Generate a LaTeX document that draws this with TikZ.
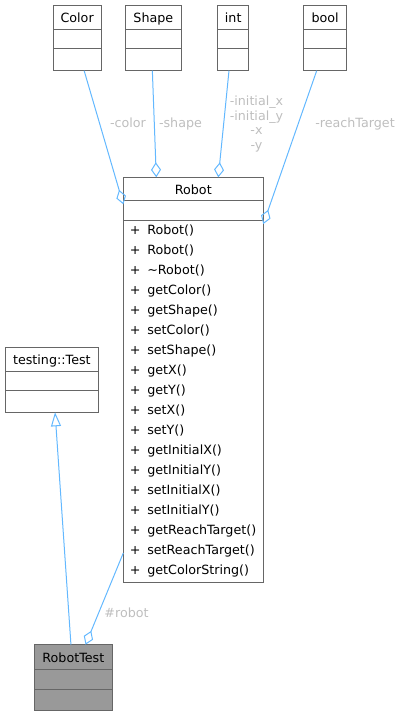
\documentclass[tikz,border=0pt]{standalone}
\usepackage{fontspec}
\setmainfont{DejaVu Sans}
\usetikzlibrary{arrows.meta,positioning}

\definecolor{edgeblue}{HTML}{63B8FF}
\definecolor{boxgray}{HTML}{666666}
\definecolor{labelgray}{HTML}{BEBEBE}
\definecolor{testfill}{HTML}{999999}

\newcommand{\opline}[1]{\makebox[17.5pt][l]{+}#1}

\tikzset{
  classtitle/.style={draw=boxgray, line width=1pt, inner sep=0pt, outer sep=0pt, minimum height=24pt,
    text height=12pt, text depth=1.4pt, font=\fontsize{12.7}{15}\selectfont},
  classpart/.style={draw=boxgray, line width=1pt, inner sep=0pt, outer sep=0pt, minimum height=20pt},
  edgelabel/.style={text=labelgray, inner sep=0pt, text height=9.6pt, text depth=2.6pt,
    font=\fontsize{12.7}{15}\selectfont},
  assoc/.style={draw=edgeblue, line width=1pt, -{Diamond[open, length=15pt, width=10pt]}},
  inherit/.style={draw=edgeblue, line width=1pt, -{Triangle[open, length=14pt, width=10pt]}}
}

\begin{document}
\begin{tikzpicture}[x=1pt,y=-1pt]
\useasboundingbox (0,0) rectangle (401,716);

% member classes
\node[classtitle, anchor=north west, minimum width=48.3pt] (color) at (53,5) {Color};
\node[classpart, minimum width=48.3pt, minimum height=19.7pt, below=0pt of color] (color-a) {};
\node[classpart, minimum width=48.3pt, minimum height=22pt, below=0pt of color-a] (color-o) {};

\node[classtitle, anchor=north west, minimum width=55.3pt] (shape) at (125.7,5) {Shape};
\node[classpart, minimum width=55.3pt, minimum height=19.7pt, below=0pt of shape] (shape-a) {};
\node[classpart, minimum width=55.3pt, minimum height=22pt, below=0pt of shape-a] (shape-o) {};

\node[classtitle, anchor=north west, minimum width=31pt] (int) at (217.7,5) {int};
\node[classpart, minimum width=31pt, minimum height=19.7pt, below=0pt of int] (int-a) {};
\node[classpart, minimum width=31pt, minimum height=22pt, below=0pt of int-a] (int-o) {};

\node[classtitle, anchor=north west, minimum width=43pt] (bool) at (303.7,5) {bool};
\node[classpart, minimum width=43pt, minimum height=19.7pt, below=0pt of bool] (bool-a) {};
\node[classpart, minimum width=43pt, minimum height=22pt, below=0pt of bool-a] (bool-o) {};

% Robot
\node[classtitle, anchor=north west, minimum width=140pt, minimum height=23pt] (robot) at (123.3,177.3) {Robot};
\node[classpart, minimum width=140pt, minimum height=19.7pt, below=0pt of robot] (robot-a) {};
\node[classpart, minimum width=140pt, minimum height=362.3pt, below=0pt of robot-a,
  align=left, text width=127pt, inner xsep=6.5pt, font=\fontsize{12.7}{20}\selectfont] (robot-o)
  {\opline{Robot()}\\ \opline{Robot()}\\ \opline{\textasciitilde Robot()}\\
   \opline{getColor()}\\ \opline{getShape()}\\ \opline{setColor()}\\ \opline{setShape()}\\
   \opline{getX()}\\ \opline{getY()}\\ \opline{setX()}\\ \opline{setY()}\\
   \opline{getInitialX()}\\ \opline{getInitialY()}\\ \opline{setInitialX()}\\
   \opline{setInitialY()}\\ \opline{getReachTarget()}\\ \opline{setReachTarget()}\\
   \opline{getColorString()}};

% testing::Test and RobotTest
\node[classtitle, anchor=north west, minimum width=93.7pt] (test) at (5,347) {testing::Test};
\node[classpart, minimum width=93.7pt, minimum height=19.7pt, below=0pt of test] (test-a) {};
\node[classpart, minimum width=93.7pt, minimum height=21.6pt, below=0pt of test-a] (test-o) {};

\node[classtitle, fill=testfill, anchor=north west, minimum width=78.7pt, minimum height=24.3pt] (robottest) at (34,644.7) {RobotTest};
\node[classpart, fill=testfill, minimum width=78.7pt, below=0pt of robottest] (robottest-a) {};
\node[classpart, fill=testfill, minimum width=78.7pt, minimum height=21.3pt, below=0pt of robottest-a] (robottest-o) {};

% connectors
\draw[assoc] ([xshift=7pt]color-o.south) -- ([yshift=-4pt]robot-a.north west);
\draw[assoc] ([xshift=-1pt]shape-o.south) -- ([xshift=-37pt]robot.north);
\draw[assoc] ([xshift=-4.2pt]int-o.south) -- ([xshift=25pt]robot.north);
\draw[assoc] ([xshift=-8.5pt]bool-o.south) -- ([yshift=-4pt]robot-o.north east);
\draw[inherit] ([xshift=-2.4pt]robottest.north) -- ([xshift=3.2pt]test-o.south);
\draw[assoc] ([yshift=29.3pt]robot-o.south west) -- ([xshift=12.2pt]robottest.north);

% labels
\node[edgelabel] (lcolor) at (128,124) {-color};
\node[edgelabel] (lshape) at (180.5,124) {-shape};
\node[text=labelgray, inner sep=0pt, align=center, anchor=north,
  font=\fontsize{12.7}{14.7}\selectfont] (lint) at (256.5,95.6)
  {-initial\_x\\-initial\_y\\-x\\-y};
\node[edgelabel] (lreach) at (355,124) {-reachTarget};
\node[edgelabel] (lrobot) at (126.5,613.8) {\#robot};
\end{tikzpicture}
\end{document}
